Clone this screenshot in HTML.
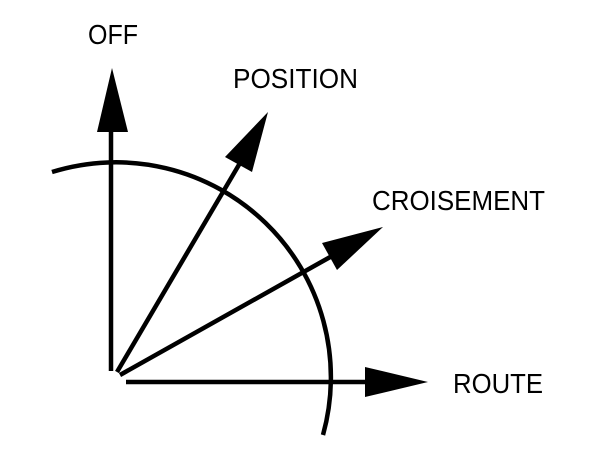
<!DOCTYPE html>
<html><head><style>html,body{margin:0;padding:0;background:#fff}</style></head><body>
<svg width="600" height="459" viewBox="0 0 600 459" xmlns="http://www.w3.org/2000/svg" style="display:block">
<g stroke="#000" stroke-width="4.5" fill="none">
<path d="M52,172 A215,215 0 0 1 323,435"/>
<line x1="111" y1="371" x2="111" y2="128"/>
<line x1="126" y1="382" x2="368" y2="382"/>
<line x1="120" y1="375" x2="332" y2="256"/>
<line x1="117" y1="372" x2="240" y2="163"/>
</g>
<g fill="#000">
<polygon points="112,68 97,132 128,132"/>
<polygon points="428,382 365,367 365,397"/>
<polygon points="383,227 322,243 337,270"/>
<polygon points="268,112 225,157 252,172"/>
</g>
<g font-family="Liberation Sans, sans-serif" font-size="28" fill="#000" lengthAdjust="spacingAndGlyphs">
<text x="88" y="44" textLength="50" lengthAdjust="spacingAndGlyphs">OFF</text>
<text x="233" y="88" textLength="125" lengthAdjust="spacingAndGlyphs">POSITION</text>
<text x="372" y="210" textLength="173" lengthAdjust="spacingAndGlyphs">CROISEMENT</text>
<text x="453" y="393" textLength="90" lengthAdjust="spacingAndGlyphs">ROUTE</text>
</g>
</svg>
</body></html>
